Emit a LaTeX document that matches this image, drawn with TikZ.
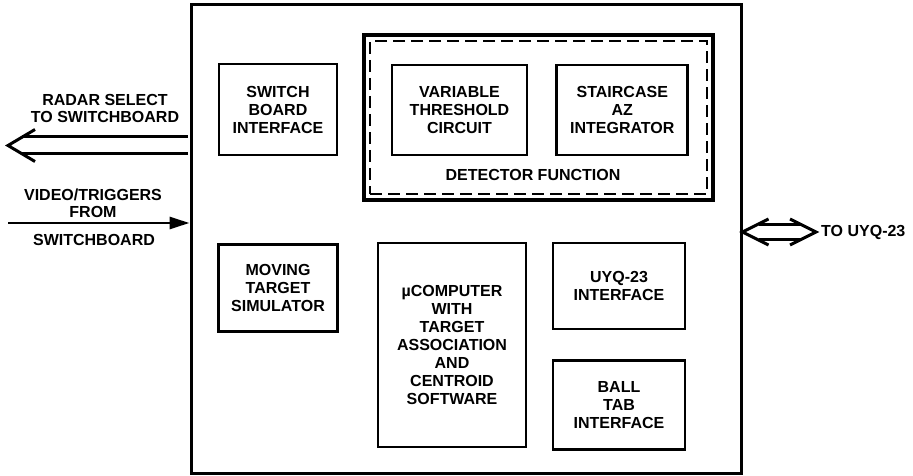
\documentclass[tikz,border=0pt]{standalone}
\usepackage{fontspec}
\setmainfont{Liberation Sans}
\usetikzlibrary{arrows.meta, positioning, calc}

\begin{document}
\begin{tikzpicture}[x=1pt, y=-1pt, >=Stealth]
    \tikzstyle{unitbox}  = [rectangle, draw=black, line width=3pt, minimum width=550pt, minimum height=468pt]
    \tikzstyle{blk}      = [rectangle, draw=black, line width=2.8pt, align=center, inner sep=0pt, font=\fontsize{16}{18}\selectfont\bfseries]
    \tikzstyle{lbl}      = [align=center, inner sep=0pt, font=\fontsize{16}{17.5}\selectfont\bfseries]
    \tikzstyle{detsolid} = [rectangle, draw=black, line width=3.4pt, minimum width=349pt, minimum height=165pt]
    \tikzstyle{detdash}  = [rectangle, draw=black, line width=2.4pt, dash pattern=on 12pt off 6pt, minimum width=337pt, minimum height=153pt]
    \tikzstyle{hollow}   = [draw=black, line width=3pt, double=white]
    \tikzstyle{barb}     = [draw=black, line width=3pt, line join=miter]

    \useasboundingbox (0,0) rectangle (913,476);

    \node (unit) [unitbox] at (466,239) {};

    \node (sbi)  [blk, minimum width=118pt, minimum height=91pt] at (278,109.5) {SWITCH\\BOARD\\INTERFACE};
    \node (mts)  [blk, minimum width=119pt, minimum height=87pt, below=87pt of sbi] {MOVING\\TARGET\\SIMULATOR};

    \node (det)  [detsolid] at (538.5,117.5) {};
    \node (detd) [detdash] at (det.center) {};
    \node (vtc)  [blk, minimum width=135pt, minimum height=90pt] at (459.5,110) {VARIABLE\\THRESHOLD\\CIRCUIT};
    \node (saz)  [blk, minimum width=131pt, minimum height=90pt, right=27pt of vtc] {STAIRCASE\\AZ\\INTEGRATOR};
    \node (detl) [lbl] at (533,175) {DETECTOR FUNCTION};

    \node (ucmp) [blk, minimum width=148pt, minimum height=204pt] at (452,345)
        {µCOMPUTER\\WITH\\TARGET\\ASSOCIATION\\AND\\CENTROID\\SOFTWARE};
    \node (uyqi) [blk, minimum width=132pt, minimum height=86pt] at (619,286) {UYQ-23\\INTERFACE};
    \node (btab) [blk, minimum width=132pt, minimum height=89pt, below=29pt of uyqi] {BALL\\TAB\\INTERFACE};

    \coordinate (rsel) at (8,145.5);
    \coordinate (vtrg) at (8,223);
    \coordinate (uyqa) at (unit.east |- 0,232);
    \coordinate (uyqb) at (816,232);

    \node (rlbl) [lbl] at (105,108.5) {RADAR SELECT\\TO SWITCHBOARD};
    \node (vlbl) [lbl] at (93,203.5) {VIDEO/TRIGGERS\\FROM};
    \node (slbl) [lbl] at (94,240) {SWITCHBOARD};
    \node (ulbl) [lbl, anchor=west] at (821,232) {TO UYQ-23};

    \draw [hollow, double distance=14pt, shorten <=1.5pt] (unit.west |- rsel) -- ($(rsel)+(14.3,0)$);
    \draw [barb] ($(rsel)+(27,-16)$) -- (rsel) -- ($(rsel)+(27,16)$);

    \draw [-{Triangle[length=20pt, width=12pt]}, line width=2.8pt] (vtrg) -- (vtrg -| unit.west);

    \draw [hollow, double distance=12pt, shorten <=1pt] ($(uyqa)+(15,0)$) -- ($(uyqb)+(-15,0)$);
    \draw [barb] ($(uyqa)+(26,-13)$) -- (uyqa) -- ($(uyqa)+(26,13)$);
    \draw [barb] ($(uyqb)+(-26,-13)$) -- (uyqb) -- ($(uyqb)+(-26,13)$);
\end{tikzpicture}
\end{document}
